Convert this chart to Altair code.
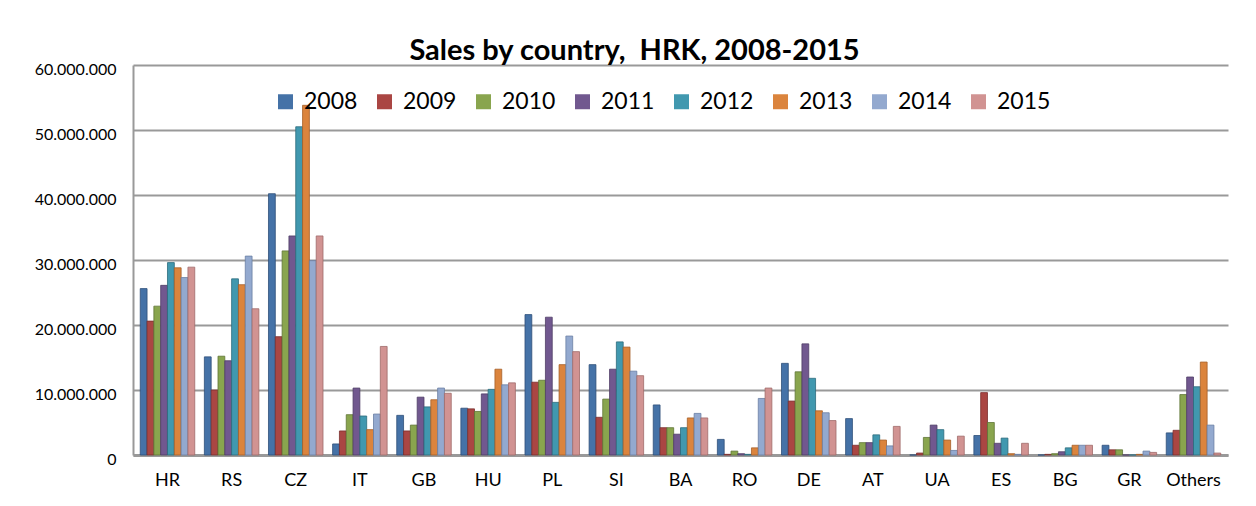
import altair as alt
import pandas as pd

countries = ["HR", "RS", "CZ", "IT", "GB", "HU", "PL", "SI", "BA", "RO",
             "DE", "AT", "UA", "ES", "BG", "GR", "Others"]
years = ["2008", "2009", "2010", "2011", "2012", "2013", "2014", "2015"]

# values in millions of HRK
v2008 = [25.6, 15.1, 40.2, 1.7, 6.1, 7.2, 21.6, 13.9, 7.7, 2.4, 14.1, 5.6, 0.0, 3.0, 0.0, 1.5, 3.4]
v2009 = [20.6, 10.0, 18.2, 3.7, 3.7, 7.1, 11.2, 5.8, 4.2, 0.1, 8.3, 1.5, 0.3, 9.6, 0.1, 0.8, 3.8]
v2010 = [22.9, 15.2, 31.4, 6.2, 4.6, 6.7, 11.5, 8.6, 4.2, 0.6, 12.8, 1.9, 2.7, 5.0, 0.2, 0.8, 9.3]
v2011 = [26.1, 14.5, 33.7, 10.3, 8.9, 9.4, 21.2, 13.2, 3.2, 0.2, 17.1, 1.9, 4.6, 1.8, 0.5, 0.0, 12.0]
v2012 = [29.6, 27.1, 50.5, 6.0, 7.4, 10.1, 8.1, 17.4, 4.2, 0.1, 11.8, 3.1, 3.9, 2.6, 1.1, 0.0, 10.5]
v2013 = [28.8, 26.2, 53.8, 3.9, 8.5, 13.2, 13.9, 16.6, 5.7, 1.1, 6.8, 2.3, 2.3, 0.2, 1.5, 0.1, 14.3]
v2014 = [27.3, 30.6, 29.9, 6.3, 10.3, 10.8, 18.3, 12.9, 6.4, 8.7, 6.5, 1.4, 0.7, 0.1, 1.5, 0.6, 4.6]
v2015 = [28.9, 22.5, 33.7, 16.7, 9.5, 11.1, 15.9, 12.2, 5.7, 10.3, 5.3, 4.4, 2.9, 1.8, 1.5, 0.4, 0.3]

series = [v2008, v2009, v2010, v2011, v2012, v2013, v2014, v2015]
colors = ["#4572A7", "#AA4643", "#89A54E", "#71588F", "#4198AF", "#DB843D", "#93A9CF", "#D19392"]
dark = ["#2f4f78", "#7a2f2d", "#5f7536", "#4f3d66", "#2c6b7c", "#a65f28", "#6a7fa3", "#a06b6a"]

rows = []
for y, vals in zip(years, series):
    for c, v in zip(countries, vals):
        rows.append({"country": c, "year": y, "value": v * 1_000_000})
df = pd.DataFrame(rows)

FONT = "Lato"

chart = alt.Chart(df).mark_bar(strokeWidth=0.8).encode(
    x=alt.X("country:N", sort=countries, title=None,
            scale=alt.Scale(paddingInner=0.15, paddingOuter=0.113),
            axis=alt.Axis(labelAngle=0, labelFontSize=18, labelFont=FONT,
                          labelColor="#000000", labelPadding=16, ticks=False,
                          domainColor="#999999", domainWidth=3, grid=False)),
    xOffset=alt.XOffset("year:N", sort=years),
    y=alt.Y("value:Q", title=None,
            scale=alt.Scale(domain=[0, 60_000_000], nice=False),
            axis=alt.Axis(values=[0, 10_000_000, 20_000_000, 30_000_000,
                                  40_000_000, 50_000_000, 60_000_000],
                          labelExpr="replace(replace(format(datum.value, ','), ',', '.'), ',', '.')",
                          labelFontSize=16, labelFont=FONT, labelColor="#000000",
                          labelPadding=17, labelOffset=4, ticks=False,
                          domainColor="#999999",
                          domainWidth=2, gridColor="#999999", gridWidth=2)),
    color=alt.Color("year:N", sort=years, title=None,
                    scale=alt.Scale(domain=years, range=colors),
                    legend=alt.Legend(orient="none", direction="horizontal",
                                      legendX=141, legendY=25,
                                      symbolType="square", symbolSize=225,
                                      symbolStrokeWidth=0,
                                      labelFontSize=23, labelFont=FONT,
                                      labelColor="#000000", labelOffset=7,
                                      columnPadding=15, padding=0)),
    stroke=alt.Stroke("year:N", sort=years,
                      scale=alt.Scale(domain=years, range=dark), legend=None),
).properties(
    width=1095,
    height=390,
    title=alt.TitleParams("Sales by country,\u00a0 HRK, 2008-2015",
                          font=FONT, fontSize=29, fontWeight="bold",
                          color="#000000", anchor="middle", dx=-46, offset=-5),
    autosize=alt.AutoSizeParams(type="none"),
    padding={"left": 125, "top": 57, "right": 20, "bottom": 43},
    background="#ffffff",
).configure_view(stroke=None)

chart.save("out.html", embed_options={"renderer": "svg", "actions": False})
